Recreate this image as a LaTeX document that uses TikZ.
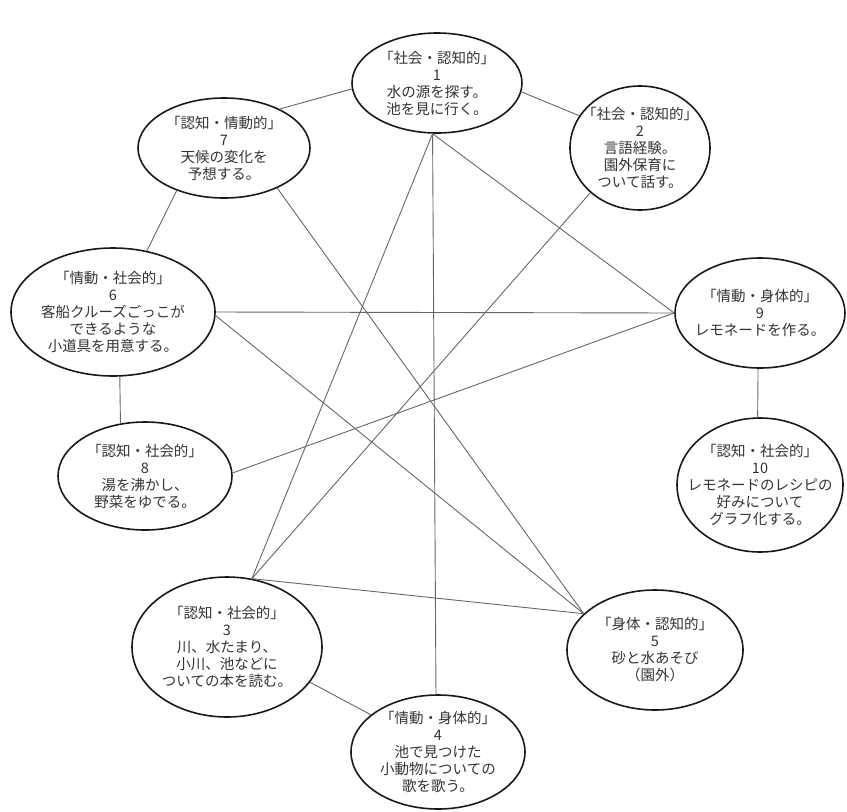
\documentclass[tikz,border=0pt]{standalone}
\usepackage{fontspec}
\setmainfont{Noto Sans CJK JP}
\usetikzlibrary{shapes.geometric}

\begin{document}
\begin{tikzpicture}[
    x=1pt, y=-1pt,
    bubble/.style={ellipse, draw=black!90, line width=1.6pt, inner sep=0pt},
    caption/.style={align=center, inner sep=0pt, text=black!80, font=\fontsize{14.5}{17}\selectfont},
    link/.style={draw=black!60, line width=0.9pt}
]
\useasboundingbox (0,0) rectangle (847,812);

\node[bubble, minimum width=170pt, minimum height=100pt,
  label={[caption]center:{「社会・認知的」\\1\\水の源を探す。\\池を見に行く。}}] (source) at (437,83) {};
\node[bubble, minimum width=140pt, minimum height=124pt,
  label={[caption]center:{「社会・認知的」\\2\\言語経験。\\園外保育に\\ついて話す。}}] (talk) at (640,148) {};
\node[bubble, minimum width=172pt, minimum height=100pt,
  label={[caption]center:{「認知・情動的」\\7\\天候の変化を\\予想する。}}] (weather) at (224,148) {};
\node[bubble, minimum width=204pt, minimum height=128pt,
  label={[caption]center:{「情動・社会的」\\6\\客船クルーズごっこが\\できるような\\小道具を用意する。}}] (cruise) at (113,312) {};
\node[bubble, minimum width=170pt, minimum height=110pt,
  label={[caption]center:{「情動・身体的」\\9\\レモネードを作る。}}] (lemonade) at (760,313) {};
\node[bubble, minimum width=174pt, minimum height=108pt,
  label={[caption]center:{「認知・社会的」\\8\\湯を沸かし、\\野菜をゆでる。}}] (boil) at (145,476) {};
\node[bubble, minimum width=166pt, minimum height=134pt,
  label={[caption]center:{「認知・社会的」\\10\\レモネードのレシピの\\好みについて\\グラフ化する。}}] (graph) at (760,485) {};
\node[bubble, minimum width=190pt, minimum height=140pt,
  label={[caption]center:{「認知・社会的」\\3\\川、水たまり、\\小川、池などに\\ついての本を読む。}}] (books) at (227,647) {};
\node[bubble, minimum width=176pt, minimum height=120pt,
  label={[caption]center:{「身体・認知的」\\5\\砂と水あそび\\（園外）}}] (sand) at (655,650) {};
\node[bubble, minimum width=174pt, minimum height=114pt,
  label={[caption]center:{「情動・身体的」\\4\\池で見つけた\\小動物についての\\歌を歌う。}}] (song) at (438,752) {};

% outer ring
\draw[link] (source.-6) -- (talk.152);
\draw[link] (source.184) -- (weather.35);
\draw[link] (weather.222) -- (cruise.61);
\draw[link] (cruise.-84) -- (boil.115);
\draw[link] (lemonade.268) -- (graph.92);
\draw[link] (books.-23) -- (song.151);

% cross links
\draw[link] (source.265) -- (books.70);
\draw[link] (source.265) -- (song.92);
\draw[link] (source.265) -- (lemonade.180);
\draw[link] (talk.222) -- (books.70);
\draw[link] (weather.-37) -- (sand.153);
\draw[link] (cruise.0) -- (lemonade.180);
\draw[link] (cruise.-2) -- (sand.153);
\draw[link] (boil.2) -- (lemonade.180);
\draw[link] (books.70) -- (sand.153);
\end{tikzpicture}
\end{document}
